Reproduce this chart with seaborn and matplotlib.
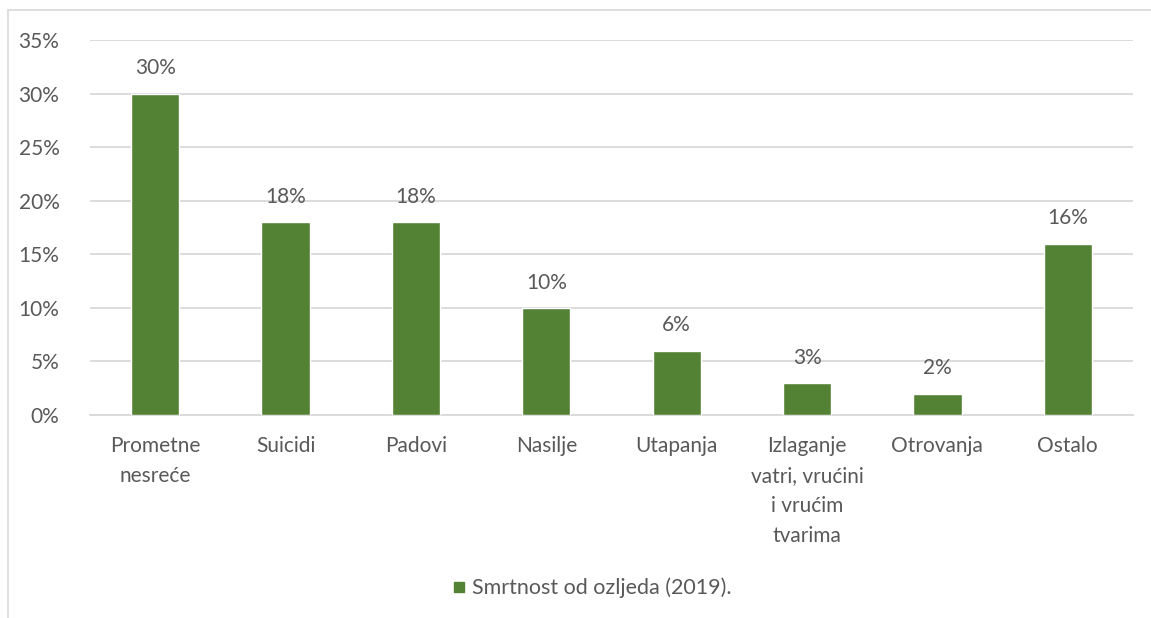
import matplotlib
matplotlib.use("Agg")
import matplotlib.pyplot as plt
import seaborn as sns
import pandas as pd
import numpy as np
from matplotlib.patches import Rectangle
from matplotlib.lines import Line2D

categories = ["Prometne\nnesreće", "Suicidi", "Padovi", "Nasilje", "Utapanja",
              "Izlaganje\nvatri, vrućini\ni vrućim\ntvarima", "Otrovanja", "Ostalo"]
values = [30, 18, 18, 10, 6, 3, 2, 16]
yticks = [0, 5, 10, 15, 20, 25, 30, 35]
series_name = "Smrtnost od ozljeda (2019)."

sns.set_theme(style="white")
plt.rcParams['font.family'] = ['Lato', 'DejaVu Sans']

GREEN = "#548235"
TXT = "#595959"
GRID = "#D9D9D9"
FS = 15

df = pd.DataFrame({"cat": categories, "val": values})

fig = plt.figure(figsize=(11.51, 6.18), dpi=100)
ax = fig.add_axes([90/1151, 1-415/618, (1133-90)/1151, (415-40)/618])

sns.barplot(data=df, x="cat", y="val", color=GREEN, width=0.37, ax=ax,
            saturation=1, zorder=3)

ax.set_ylim(0, 35)
ax.set_xlim(-0.5, len(categories)-0.5)
ax.set_yticks(yticks)
ax.set_yticklabels([f"{t}%" for t in yticks], color=TXT, fontsize=FS)
ax.yaxis.grid(True, color=GRID, linewidth=1.3, zorder=0)
ax.set_axisbelow(True)
ax.tick_params(axis='y', length=0, pad=22)
ax.tick_params(axis='x', length=0, pad=15, labelsize=FS, labelcolor=TXT)
for lbl in ax.get_xticklabels():
    lbl.set_linespacing(1.62)
ax.set_xticks(np.arange(-0.5, len(categories), 1), minor=True)
ax.tick_params(axis='x', which='minor', length=8, color=GRID, width=1.3)
ax.set_xlabel("")
ax.set_ylabel("")
for s in ["top", "right", "left"]:
    ax.spines[s].set_visible(False)
ax.spines["bottom"].set_color(GRID)
ax.spines["bottom"].set_linewidth(1.3)

for c in ax.containers:
    ax.bar_label(c, labels=[f"{v}%" for v in values], padding=11,
                 color=TXT, fontsize=FS)

handle = Line2D([], [], marker='s', linestyle='none', color=GREEN, markersize=7)
fig.legend([handle], [series_name], loc="center", bbox_to_anchor=(590/1151, 1-588/618),
           frameon=False, fontsize=15.5, labelcolor=TXT, handletextpad=0.1,
           handlelength=1.0)

fig.patches.append(Rectangle((8/1151, -0.1), 1.2, 1.1 - 10/618, transform=fig.transFigure,
                             fill=False, edgecolor=GRID, linewidth=1.2))

fig.savefig("out.png", dpi=100)
